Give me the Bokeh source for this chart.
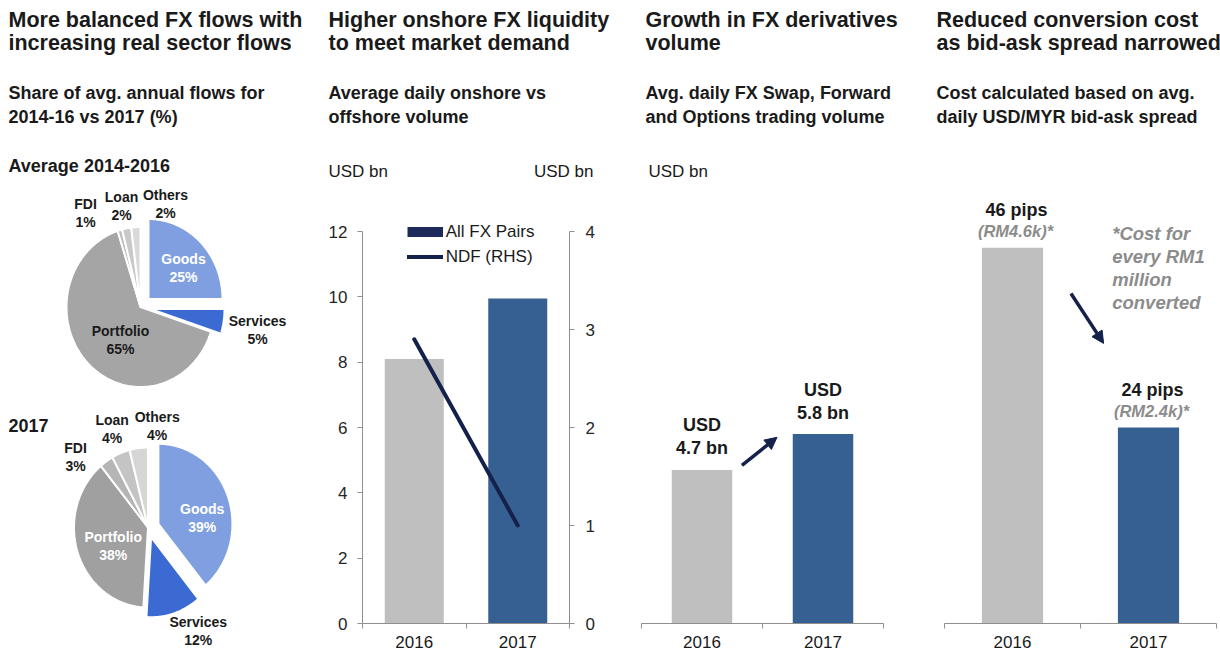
import numpy as np
from bokeh.plotting import figure
from bokeh.models import (Range1d, LinearAxis, FixedTicker, Label, LabelSet, Arrow,
                          NormalHead, ColumnDataSource, Legend, LegendItem)
from bokeh.layouts import row
from bokeh.embed import file_html
from bokeh.resources import INLINE
from bokeh.core.properties import value

# ---------------- data ----------------
flow_types = ["Goods", "Services", "Portfolio", "FDI", "Loan", "Others"]
flow_share_2014_16 = [25, 5, 65, 1, 2, 2]
flow_share_2017 = [39, 12, 38, 3, 4, 4]
years = ["2016", "2017"]
all_fx_pairs = [8.1, 9.95]          # USD bn, LHS
ndf_rhs = [2.9, 1.0]                # USD bn, RHS
derivatives_volume = [4.7, 5.8]     # USD bn
spread_pips = [46, 24]
cost_per_rm1m = ["RM4.6k", "RM2.4k"]
lhs_ticks = [0, 2, 4, 6, 8, 10, 12]
rhs_ticks = [0, 1, 2, 3, 4]

# ---------------- style ----------------
FONT = "Liberation Sans"
DARK = "#1a1a1a"
AXIS = "#8f8f8f"
BAR_GRAY = "#bfbfbf"
BAR_BLUE = "#376092"
NAVY = "#14214b"
NOTE_GRAY = "#8c8c8c"
GOODS = "#809fe0"
SERVICES = "#3c6ad3"
pie1_colors = [GOODS, SERVICES, "#a5a5a5", "#bdbdbd", "#c9c9c9", "#d9d9d9"]
pie2_colors = [GOODS, SERVICES, "#a0a0a0", "#b5b5b5", "#c4c4c4", "#d6d6d6"]
H = 656
TOP, BOT = 0, 656           # page y of figure top / bottom
BASE, CEIL = 623, 231       # page y of value axis 0 and top tick
xpos = [i + 0.5 for i in range(len(years))]
n_cat = len(years)
bar_colors = [BAR_GRAY, BAR_BLUE]


def lin_range(v0, v1, s0, s1, S0, S1):
    """Range whose value v0 sits at page pixel s0 and v1 at s1, figure spanning S0..S1."""
    k = (v1 - v0) / (s1 - s0)
    return Range1d(v0 + (S0 - s0) * k, v0 + (S1 - s0) * k)


def new_fig(left, width, x_axis_px, y_top_value):
    p = figure(width=width, height=H, output_backend="svg", toolbar_location=None,
               x_range=lin_range(0, n_cat, x_axis_px[0], x_axis_px[1], left, left + width),
               y_range=lin_range(0, y_top_value, BASE, CEIL, BOT, TOP),
               min_border=0, x_axis_location=None, y_axis_location=None)
    p.outline_line_color = None
    p.grid.visible = False
    return p


def put(p, fl, px, py, text, size="17px", style="normal", color=DARK, align="left"):
    p.add_layout(Label(x=px - fl, y=BOT - py, x_units="screen", y_units="screen", text=text,
                       text_font=FONT, text_font_size=size, text_font_style=style,
                       text_color=color, text_align=align, text_baseline="middle"))


def add_xaxis(p):
    ax = LinearAxis(fixed_location=0, bounds=(0, n_cat))
    ax.ticker = FixedTicker(ticks=xpos, minor_ticks=list(range(n_cat + 1)))
    ax.major_label_overrides = {x: y for x, y in zip(xpos, years)}
    ax.axis_line_color = AXIS
    ax.major_tick_line_color = None
    ax.major_tick_out = 5
    ax.major_tick_in = 0
    ax.minor_tick_line_color = AXIS
    ax.minor_tick_out = 5
    ax.minor_tick_in = 0
    ax.major_label_standoff = 7
    ax.major_label_text_font = FONT
    ax.major_label_text_font_size = "17px"
    ax.major_label_text_color = DARK
    p.add_layout(ax, "below")


def add_yaxis(p, side, loc, ticks, standoff, range_name="default"):
    ax = LinearAxis(fixed_location=loc, bounds=(ticks[0], ticks[-1]), y_range_name=range_name)
    ax.ticker = FixedTicker(ticks=ticks)
    ax.axis_line_color = AXIS
    ax.major_tick_line_color = AXIS
    ax.major_tick_out = 5
    ax.major_tick_in = 0
    ax.minor_tick_line_color = None
    ax.major_label_standoff = standoff
    ax.major_label_text_font = FONT
    ax.major_label_text_font_size = "17px"
    ax.major_label_text_color = "#262626"
    p.add_layout(ax, side)


def headers(p, fl, x, title, subtitle, tsize="21.5px"):
    put(p, fl, x, 19.5, title[0], tsize, "bold")
    put(p, fl, x, 42, title[1], tsize, "bold")
    put(p, fl, x, 92.5, subtitle[0], "18px", "bold")
    put(p, fl, x, 116.5, subtitle[1], "18px", "bold")


# ================= Panel 1: pies =================
P1L = 0
p1 = figure(width=320, height=H, x_range=Range1d(0, 320), y_range=Range1d(BOT, TOP),
            output_backend="svg", toolbar_location=None, min_border=0,
            x_axis_location=None, y_axis_location=None)
p1.outline_line_color = None
p1.grid.visible = False
headers(p1, P1L, 8,
        ["More balanced FX flows with", "increasing real sector flows"],
        ["Share of avg. annual flows for", "2014-16 vs 2017 (%)"])
put(p1, P1L, 8, 165, "Average 2014-2016", "18px", "bold")
put(p1, P1L, 8, 425, "2017", "18px", "bold")


def pie_patches(shares, cx, cy, rx, ry, offsets):
    xs, ys = [], []
    total = float(sum(shares))
    start = 0.0
    for s, (ox, oy) in zip(shares, offsets):
        a0 = 2 * np.pi * start / total
        a1 = 2 * np.pi * (start + s) / total
        t = np.linspace(a0, a1, max(int(s * 4), 10))
        xs.append([cx + ox] + list(cx + ox + rx * np.sin(t)))
        ys.append([cy + oy] + list(cy + oy - ry * np.cos(t)))
        start += s
    return xs, ys


pie_specs = [
    (flow_share_2014_16, pie1_colors, (140, 306.5),
     [(8, -8), (10, 2), (0, 0), (0, 0), (0, 0), (0, 0)],
     [(183, 267), (257, 329), (120, 339), (85, 212.5), (121, 205), (165, 203)],
     ["white", DARK, DARK, DARK, DARK, DARK]),
    (flow_share_2017, pie2_colors, (147.5, 527),
     [(10.4, -3.7), (3.1, 9.7), (0, 0), (0, 0), (0, 0), (0, 0)],
     [(201.7, 517), (197.7, 630.5), (112.7, 545.3), (75, 456.7), (111.7, 428.3), (156.7, 425)],
     ["white", DARK, "white", DARK, DARK, DARK]),
]
for shares, colors, (cx, cy), offs, lpos, lcol in pie_specs:
    xs, ys = pie_patches(shares, cx, cy, 74, 80, offs)
    p1.patches(xs=xs, ys=ys, fill_color=colors, line_color="white", line_width=2)
    tx, ty, tt, tc = [], [], [], []
    for name, share, (lx, ly), c in zip(flow_types, shares, lpos, lcol):
        tx += [lx, lx]
        ty += [ly - 9, ly + 9]
        tt += [name, f"{share}%"]
        tc += [c, c]
    p1.text(x=tx, y=ty, text=tt, text_color=tc, text_font=value(FONT),
            text_font_size="14px", text_font_style="bold",
            text_align="center", text_baseline="middle")

# ================= Panel 2: onshore vs NDF =================
P2L = 320
p2 = new_fig(P2L, 308, (362, 569), lhs_ticks[-1])
p2.extra_y_ranges = {"rhs": lin_range(0, rhs_ticks[-1], BASE, CEIL, BOT, TOP)}
add_xaxis(p2)
add_yaxis(p2, "left", 0, lhs_ticks, 10)
add_yaxis(p2, "right", n_cat, rhs_ticks, 11, "rhs")
src2 = ColumnDataSource(dict(x=xpos, top=all_fx_pairs, color=bar_colors))
p2.vbar(x="x", top="top", width=0.57, fill_color="color", line_color=None, source=src2)
ndf = p2.line(x=xpos, y=ndf_rhs, y_range_name="rhs", line_color=NAVY, line_width=4,
              line_cap="round")
swatch = p2.line(x=[np.nan], y=[np.nan], line_color="#1c2b5a", line_width=10,
                 line_cap="butt")
leg = Legend(items=[LegendItem(label="All FX Pairs", renderers=[swatch]),
                    LegendItem(label="NDF (RHS)", renderers=[ndf])],
             location=(406.7 - P2L, BOT - 267.2), glyph_width=36, glyph_height=21,
             label_height=21, label_standoff=3, spacing=4, padding=0, margin=0,
             border_line_color=None, background_fill_alpha=0,
             label_text_font=FONT, label_text_font_size="17px", label_text_color=DARK)
p2.add_layout(leg)
headers(p2, P2L, 328,
        ["Higher onshore FX liquidity", "to meet market demand"],
        ["Average daily onshore vs", "offshore volume"])
put(p2, P2L, 328, 171, "USD bn")
put(p2, P2L, 593, 171, "USD bn", align="right")

# ================= Panel 3: derivatives =================
P3L = 628
p3 = new_fig(P3L, 297, (641, 883), lhs_ticks[-1])
add_xaxis(p3)
src3 = ColumnDataSource(dict(x=xpos, top=derivatives_volume, color=bar_colors,
                             l1=["USD"] * n_cat,
                             l2=[f"{v} bn" for v in derivatives_volume]))
p3.vbar(x="x", top="top", width=0.5, fill_color="color", line_color=None, source=src3)
for col, off in (("l1", 44.5), ("l2", 21.5)):
    p3.add_layout(LabelSet(x="x", y="top", text=col, source=src3, y_offset=off,
                           text_font=value(FONT), text_font_size="18px", text_font_style="bold",
                           text_color=DARK, text_align="center", text_baseline="middle"))
p3.add_layout(Arrow(x_start=xpos[0] + 0.33, y_start=derivatives_volume[0] + 0.14,
                    x_end=xpos[1] - 0.38, y_end=derivatives_volume[1] - 0.1,
                    line_color=NAVY, line_width=3.5,
                    end=NormalHead(size=12, fill_color=NAVY, line_color=NAVY)))
headers(p3, P3L, 645,
        ["Growth in FX derivatives", "volume"],
        ["Avg. daily FX Swap, Forward", "and Options trading volume"])
put(p3, P3L, 648, 171, "USD bn")

# ================= Panel 4: bid-ask spread =================
P4L = 925
p4 = new_fig(P4L, 295, (944, 1216), 48)
add_xaxis(p4)
src4 = ColumnDataSource(dict(x=xpos, top=spread_pips, color=bar_colors,
                             l1=[f"{v} pips" for v in spread_pips],
                             l2=[f"({c})*" for c in cost_per_rm1m]))
p4.vbar(x="x", top="top", width=0.45, fill_color="color", line_color=None, source=src4)
p4.add_layout(LabelSet(x="x", y="top", text="l1", source=src4, y_offset=38, x_offset=4,
                       text_font=value(FONT), text_font_size="18px", text_font_style="bold",
                       text_color=DARK, text_align="center", text_baseline="middle"))
p4.add_layout(LabelSet(x="x", y="top", text="l2", source=src4, y_offset=16.5, x_offset=3,
                       text_font=value(FONT), text_font_size="16.5px",
                       text_font_style="bold italic",
                       text_color=NOTE_GRAY, text_align="center", text_baseline="middle"))
p4.add_layout(Arrow(x_start=xpos[0] + 0.43, y_start=40.4, x_end=xpos[1] - 0.33, y_end=34.3,
                    line_color=NAVY, line_width=3.5,
                    end=NormalHead(size=12, fill_color=NAVY, line_color=NAVY)))
headers(p4, P4L, 936,
        ["Reduced conversion cost", "as bid-ask spread narrowed"],
        ["Cost calculated based on avg.", "daily USD/MYR bid-ask spread"])
for txt, yy in zip(["*Cost for", "every RM1", "million", "converted"], [233, 256, 279, 302]):
    put(p4, P4L, 1111.7, yy, txt, "18.5px", "bold italic", NOTE_GRAY)

layout = row(p1, p2, p3, p4)
open("out.html", "w").write(file_html(layout, INLINE))
